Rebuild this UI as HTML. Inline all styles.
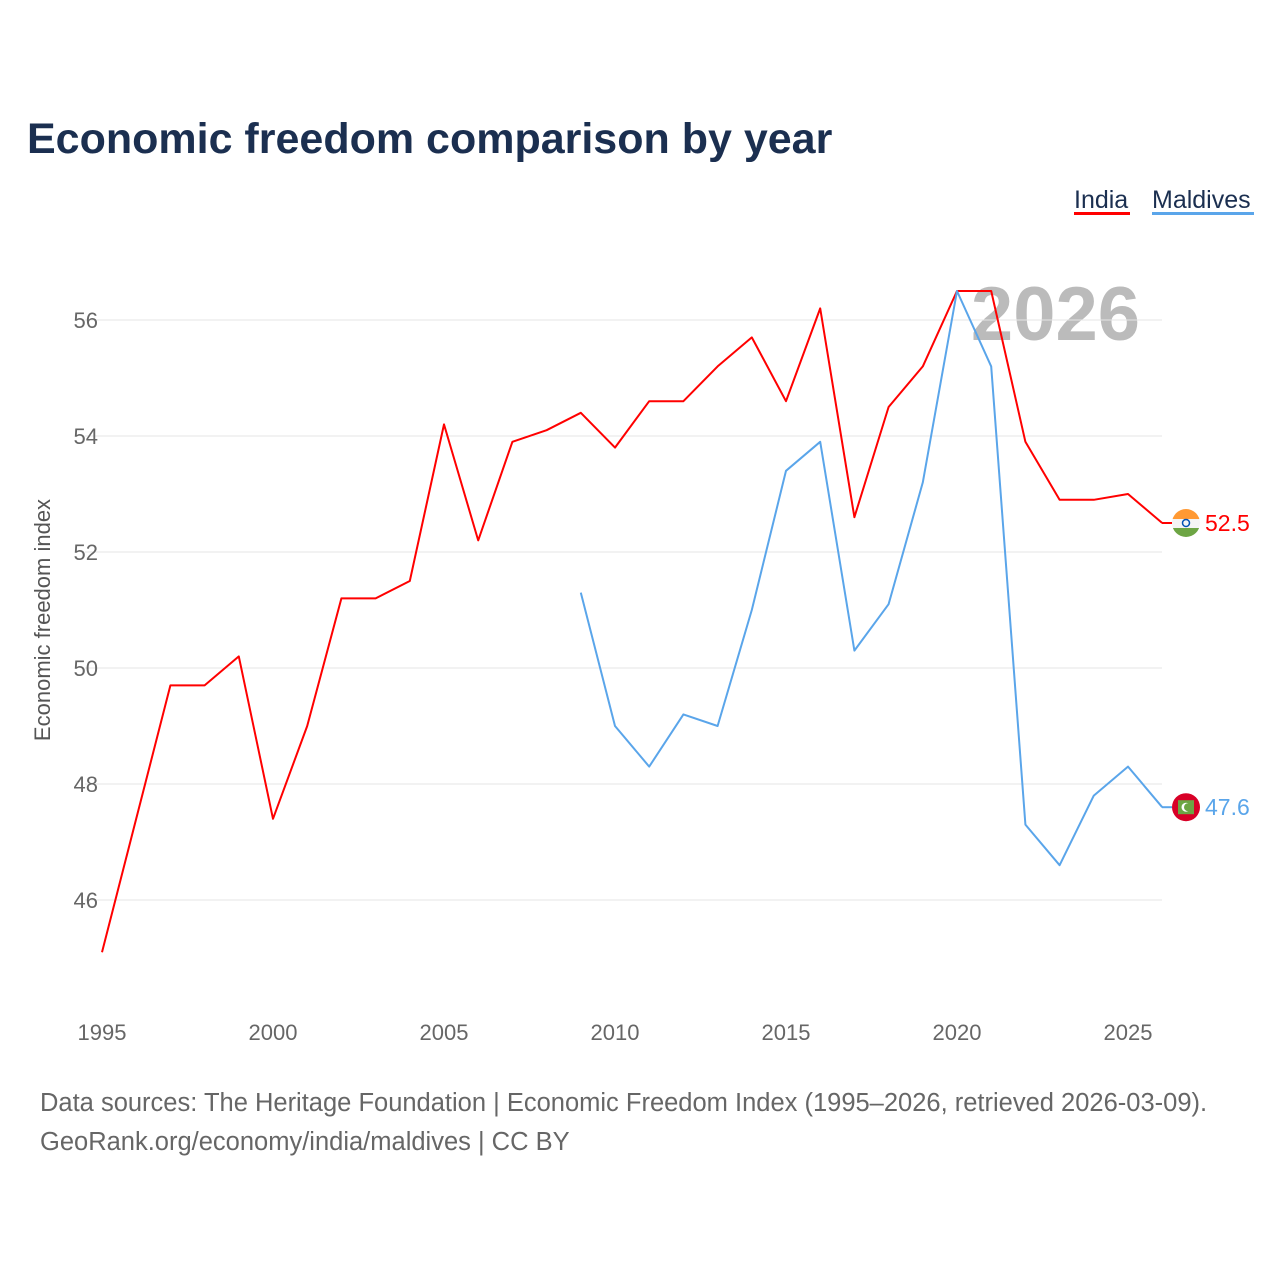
<!DOCTYPE html>
<html><head><meta charset="utf-8"><style>
body{margin:0;background:#fff;font-family:"Liberation Sans",sans-serif;}
svg{display:block}
</style></head><body>
<svg id="chart" width="1280" height="1280">
<defs>
<clipPath id="fc1"><circle cx="1186" cy="522" r="14"/></clipPath>
</defs>
<rect width="1280" height="1280" fill="#fff"/>
<text x="27" y="153" font-size="43" font-weight="bold" fill="#1b2f50">Economic freedom comparison by year</text>
<g>
<text x="1074" y="208" font-size="25" fill="#1b2f50">India</text>
<rect x="1074" y="212" width="56" height="3" fill="#ff0000"/>
<text x="1152" y="208" font-size="25" fill="#1b2f50">Maldives</text>
<rect x="1152" y="212" width="102" height="3" fill="#5aa5ea"/>
</g>
<text x="1140" y="340" font-size="76" font-weight="bold" fill="#bbb" text-anchor="end">2026</text>
<g id="grid"></g><g id="xt"></g><g id="lines"></g>
<text transform="translate(50,620) rotate(-90)" font-size="22" fill="#555" text-anchor="middle">Economic freedom index</text>
<text x="40" y="1111" font-size="25.5" fill="#666">Data sources: The Heritage Foundation | Economic Freedom Index (1995–2026, retrieved 2026-03-09).</text>
<text x="40" y="1150" font-size="25.5" fill="#666">GeoRank.org/economy/india/maldives | CC BY</text>
</svg>
<script>
const years=[1995,1996,1997,1998,1999,2000,2001,2002,2003,2004,2005,2006,2007,2008,2009,2010,2011,2012,2013,2014,2015,2016,2017,2018,2019,2020,2021,2022,2023,2024,2025,2026];
const india=[45.1,47.4,49.7,49.7,50.2,47.4,49.0,51.2,51.2,51.5,54.2,52.2,53.9,54.1,54.4,53.8,54.6,54.6,55.2,55.7,54.6,56.2,52.6,54.5,55.2,56.5,56.5,53.9,52.9,52.9,53.0,52.5];
const maldives=[null,null,null,null,null,null,null,null,null,null,null,null,null,null,51.3,49.0,48.3,49.2,49.0,51.0,53.4,53.9,50.3,51.1,53.2,56.5,55.2,47.3,46.6,47.8,48.3,47.6];
const yTicks=[46,48,50,52,54,56];
const xTicks=[1995,2000,2005,2010,2015,2020,2025];
const NS="http://www.w3.org/2000/svg";
const X=y=>102+(y-1995)*34.2;
const Y=v=>900-(v-46)*58;
function mk(t,a,p){const e=document.createElementNS(NS,t);for(const k in a)e.setAttribute(k,a[k]);p.appendChild(e);return e;}
const grid=document.getElementById('grid');
yTicks.forEach(v=>{
 const l=mk('line',{x1:85,x2:1162,y1:Y(v),y2:Y(v),stroke:'#e6e6e6','stroke-width':1},grid);
 
 
 const t=mk('text',{x:98,y:Y(v)+8,'font-size':22,fill:'#666','text-anchor':'end'},grid);
 t.textContent=v;
 
 
});
const xt=document.getElementById('xt');
xTicks.forEach(v=>{
 const t=mk('text',{x:X(v),y:1040,'font-size':22,fill:'#666','text-anchor':'middle'},xt);
 t.textContent=v;
 
 
});
const lines=document.getElementById('lines');
function series(vals,color,name,flag){
 let d='';vals.forEach((v,i)=>{if(v==null)return;d+=(d?'L':'M')+X(years[i])+','+Y(v);});
 const p=mk('path',{d:d,fill:'none',stroke:color,'stroke-width':2,'stroke-linejoin':'round'},lines);
 
 
 const last=vals[vals.length-1];
 const cy=Y(last);
 mk('line',{x1:1162,x2:1172,y1:cy,y2:cy,stroke:color,'stroke-width':2},lines);
 const g=mk('g',{},lines);
 
 
 flag(g,cy);
 const t=mk('text',{x:1205,y:cy+8,'font-size':23,fill:color},lines);
 t.textContent=last.toFixed(1);
 
 
}
series(india,'#ff0000','india',(g,cy)=>{
 const cid='cIn';const cp=mk('clipPath',{id:cid},g);mk('circle',{cx:1186,cy:cy,r:14},cp);
 const h=mk('g',{'clip-path':'url(#'+cid+')'},g);
 mk('rect',{x:1172,y:cy-14,width:28,height:10,fill:'#ff9933'},h);
 mk('rect',{x:1172,y:cy-4,width:28,height:9,fill:'#f4f4f4'},h);
 mk('rect',{x:1172,y:cy+5,width:28,height:10,fill:'#6da544'},h);
 mk('circle',{cx:1186,cy:cy,r:3.5,fill:'none',stroke:'#0052b4','stroke-width':1.5},g);
});
series(maldives,'#5aa5ea','maldives',(g,cy)=>{
 mk('circle',{cx:1186,cy:cy,r:14,fill:'#d80027'},g);
 mk('rect',{x:1178,y:cy-7,width:16,height:14,fill:'#6da544'},g);
 mk('circle',{cx:1186,cy:cy,r:4.5,fill:'#fff'},g);
 mk('circle',{cx:1188,cy:cy,r:4,fill:'#6da544'},g);
});
</script>
</body></html>
